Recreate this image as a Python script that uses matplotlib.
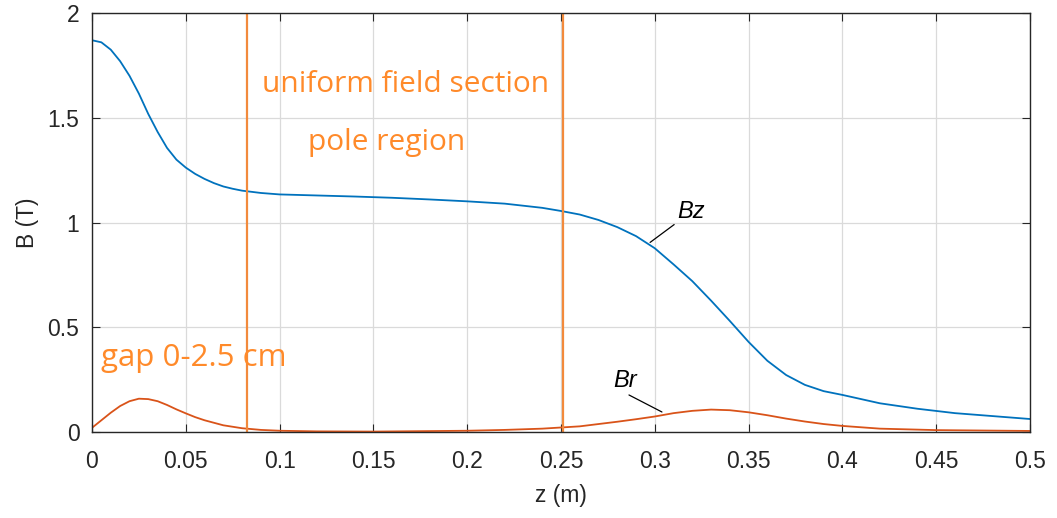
import matplotlib.pyplot as plt

# field along the axis
z_bz = [0, 0.005, 0.01, 0.015, 0.02, 0.025, 0.03, 0.035, 0.04, 0.045, 0.05,
        0.055, 0.06, 0.065, 0.07, 0.075, 0.08, 0.09, 0.1, 0.12, 0.14, 0.16,
        0.18, 0.2, 0.22, 0.24, 0.25, 0.26, 0.27, 0.28, 0.29, 0.3, 0.31, 0.32,
        0.33, 0.34, 0.35, 0.36, 0.37, 0.38, 0.39, 0.4, 0.42, 0.44, 0.46, 0.48,
        0.5]
bz = [1.87, 1.86, 1.825, 1.77, 1.70, 1.615, 1.518, 1.432, 1.356, 1.300,
      1.262, 1.232, 1.208, 1.188, 1.172, 1.161, 1.152, 1.141, 1.134, 1.129,
      1.124, 1.118, 1.110, 1.101, 1.090, 1.070, 1.055, 1.038, 1.012, 0.978,
      0.935, 0.877, 0.800, 0.720, 0.627, 0.530, 0.430, 0.340, 0.272, 0.225,
      0.195, 0.177, 0.137, 0.111, 0.090, 0.076, 0.062]

z_br = [0, 0.005, 0.01, 0.015, 0.02, 0.025, 0.03, 0.035, 0.04, 0.045, 0.05,
        0.055, 0.06, 0.07, 0.08, 0.09, 0.1, 0.12, 0.15, 0.2, 0.22, 0.24, 0.26,
        0.28, 0.29, 0.3, 0.31, 0.32, 0.33, 0.34, 0.35, 0.36, 0.37, 0.38, 0.39,
        0.4, 0.42, 0.45, 0.5]
br = [0.02, 0.056, 0.092, 0.124, 0.147, 0.159, 0.157, 0.147, 0.129, 0.108,
      0.089, 0.071, 0.056, 0.032, 0.018, 0.01, 0.006, 0.003, 0.002, 0.006,
      0.01, 0.016, 0.027, 0.049, 0.061, 0.074, 0.09, 0.101, 0.107, 0.104,
      0.094, 0.08, 0.064, 0.05, 0.038, 0.029, 0.016, 0.009, 0.005]

section_edges = [0.0826, 0.251]

xticks = [0, 0.05, 0.1, 0.15, 0.2, 0.25, 0.3, 0.35, 0.4, 0.45, 0.5]
xtick_labels = ['0', '0.05', '0.1', '0.15', '0.2', '0.25', '0.3', '0.35',
                '0.4', '0.45', '0.5']
yticks = [0, 0.5, 1, 1.5, 2]
ytick_labels = ['0', '0.5', '1', '1.5', '2']

plt.rcParams['font.family'] = ['Liberation Sans', 'DejaVu Sans']
orange = '#FF8A2A'
grey = '#262626'

fig = plt.figure(figsize=(10.57, 5.18), dpi=100)
ax = fig.add_axes([92 / 1057, 1 - 432 / 518, (1030 - 92) / 1057, (432 - 13) / 518])

ax.plot(z_bz, bz, color='#0072BD', lw=1.3)
ax.plot(z_br, br, color='#D95319', lw=1.3)
for x in section_edges:
    ax.axvline(x, color='#F28A3C', lw=1.6)

ax.set_xlim(0, 0.5)
ax.set_ylim(0, 2)
ax.set_xticks(xticks, xtick_labels)
ax.set_yticks(yticks, ytick_labels)
ax.grid(True, color='#DADADA', lw=0.9)
ax.set_axisbelow(True)
ax.tick_params(direction='in', top=True, right=True, length=6,
               labelsize=16.5, labelcolor=grey, color=grey)
ax.tick_params(axis='x', pad=13)
ax.tick_params(axis='y', pad=9)
for s in ax.spines.values():
    s.set_color(grey)
    s.set_linewidth(1.0)

ax.set_xlabel('z (m)', fontsize=16.5, color=grey, labelpad=8)
ax.set_ylabel('B (T)', fontsize=16.5, color=grey, labelpad=6)

# orange notes
note = dict(color=orange, family=['Open Sans', 'DejaVu Sans'])
ax.text(0.167, 1.66, 'uniform field section', ha='center', va='center',
        fontsize=21.5, **note)
ax.text(0.157, 1.38, 'pole region', ha='center', va='center',
        fontsize=21.5, **note)
ax.text(0.005, 0.355, 'gap 0-2.5 cm', ha='left', va='center',
        fontsize=22.5, **note)

# curve labels with leader lines
ax.annotate('Bz', xy=(0.2975, 0.905), xytext=(0.3118, 1.0),
            fontsize=17, style='italic', ha='left', va='bottom',
            arrowprops=dict(arrowstyle='-', color='black', lw=0.9,
                            shrinkA=0, shrinkB=0, relpos=(0, 0)))
ax.annotate('Br', xy=(0.3038, 0.0955), xytext=(0.2777, 0.19),
            fontsize=17, style='italic', ha='left', va='bottom',
            arrowprops=dict(arrowstyle='-', color='black', lw=0.9,
                            shrinkA=0, shrinkB=0, relpos=(0.45, 0)))

fig.savefig('out.png', dpi=100)
